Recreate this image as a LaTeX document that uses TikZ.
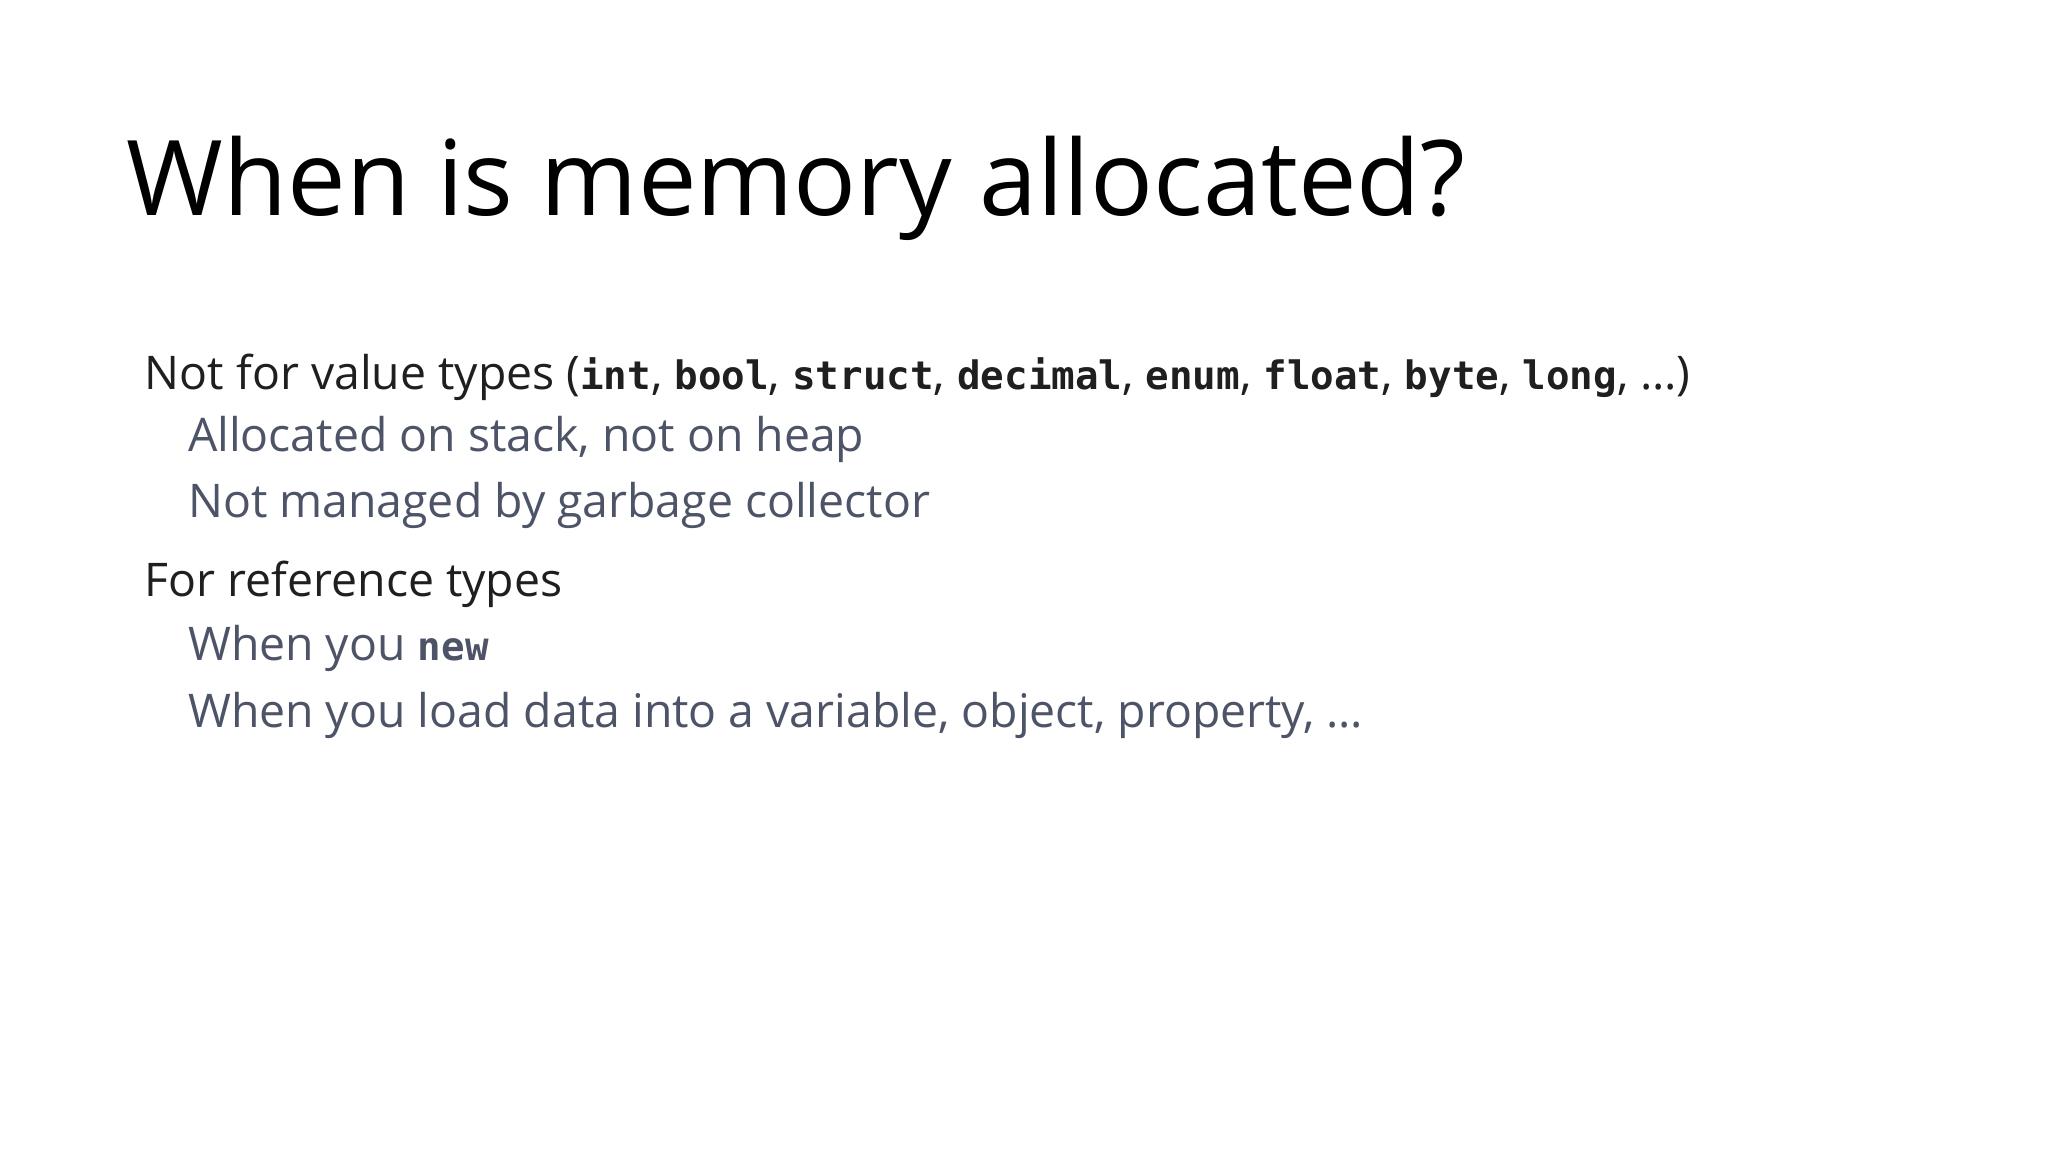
\documentclass[tikz,border=0pt]{standalone}
\usepackage{fontspec}
\setmainfont{Open Sans}
\setmonofont{DejaVu Sans Mono}
\newcommand{\kw}[1]{{\ttfamily\bfseries\fontsize{30}{34}\selectfont #1}}
\begin{document}
\begin{tikzpicture}[x=1pt,y=1pt,
  every node/.style={anchor=base west,inner sep=0pt,outer sep=0pt},
  lvl1/.style={font=\fontsize{35.5}{40}\selectfont,text=black!88},
  lvl2/.style={font=\fontsize{35.5}{40}\selectfont,text={rgb,255:red,78;green,84;blue,104}}]
\useasboundingbox[fill=white] (0,0) rectangle (1568,-882);
\node[font=\fontsize{80}{96}\selectfont,text=black] (title) at (97,-165) {When is memory allocated?};
\node[lvl1] (l1) at (111,-298) {Not for value types (\kw{int}, \kw{bool}, \kw{struct}, \kw{decimal}, \kw{enum}, \kw{float}, \kw{byte}, \kw{long}, \dots)};
\node[lvl2] (l2) at (144,-346) {Allocated on stack, not on heap};
\node[lvl2] (l3) at (144,-396) {Not managed by garbage collector};
\node[lvl1] (l4) at (111,-457) {For reference types};
\node[lvl2] (l5) at (144,-506) {When you \kw{new}};
\node[lvl2] (l6) at (144,-557) {When you load data into a variable, object, property, \dots};
\end{tikzpicture}
\end{document}
